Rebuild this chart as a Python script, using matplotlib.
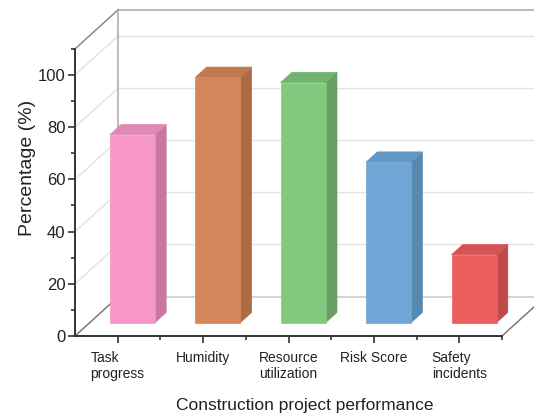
import matplotlib
matplotlib.use("Agg")
import matplotlib.pyplot as plt
from matplotlib.patches import Polygon

plt.rcParams["font.family"] = ["Liberation Sans", "DejaVu Sans"]

categories = ["Task\nprogress", "Humidity", "Resource\nutilization", "Risk Score", "Safety\nincidents"]
values = [72, 94, 92, 61.5, 26]
front_colors = ["#F797C9", "#D4875A", "#82C97E", "#6FA6D5", "#EC5E5E"]
top_colors = ["#E089B5", "#C07A4E", "#72B26F", "#6296C4", "#D65353"]
side_colors = ["#C877A1", "#AE6C44", "#689E64", "#5688B0", "#BE4A4A"]
major_ticks = [0, 20, 40, 60, 80, 100]
minor_ticks = [10, 30, 50, 70, 90, 110]
y_top = 110

# oblique depth offset (in data units) and bar placement along the depth
DX, DY = 0.507, 15.06
D0, D1 = 0.34, 0.60
HALF_W = 0.2635


def proj(x, y, d):
    return (x + d * DX, y + d * DY)


fig = plt.figure(figsize=(5.34, 4.15), dpi=100)
ax = fig.add_axes([75 / 534, 79 / 415, 459 / 534, 336 / 415])
ax.set_xlim(0.5, 0.5 + 459 / 85.4)
ax.set_ylim(0, 336 / 2.61)

x0, x1 = 0.5, 0.5 + len(categories)

# back wall and floor
grid_kw = dict(color="#E3E3E3", lw=1.0, zorder=1, clip_on=False)
for t in major_ticks[1:]:
    bx, by = proj(x0, t, 1)
    ax.plot([bx, x1 + 2], [by, by], **grid_kw)
    ax.plot([x0, bx], [t, by], **grid_kw)
edge_kw = dict(color="#A8A8A8", lw=1.1, zorder=2, clip_on=False)
bx, by = proj(x0, y_top, 1)
ax.plot([bx, x1 + 2], [by, by], **edge_kw)
ax.plot([x0, bx], [y_top, by], color="#8A8A8A", lw=1.1, zorder=2)
bx0, by0 = proj(x0, 0, 1)
ax.plot([bx0, bx0], [by0, by], **edge_kw)
ax.plot([bx0, x1 + 2], [by0, by0], color="#C8C8C8", lw=1.1, zorder=2)
ax.plot([x0, bx0], [0, by0], color="#7A7A7A", lw=1.1, zorder=2)
rx, ry = proj(x1, 0, 1)
ax.plot([x1, rx], [0, ry], color="#7A7A7A", lw=1.1, zorder=2, clip_on=True)

# 3D-looking bars
for i, v in enumerate(values):
    c = i + 1
    l, r = c - HALF_W, c + HALF_W
    front = [proj(l, 0, D0), proj(r, 0, D0), proj(r, v, D0), proj(l, v, D0)]
    side = [proj(r, 0, D0), proj(r, 0, D1), proj(r, v, D1), proj(r, v, D0)]
    top = [proj(l, v, D0), proj(r, v, D0), proj(r, v, D1), proj(l, v, D1)]
    ax.add_patch(Polygon(side, closed=True, fc=side_colors[i], ec=side_colors[i], lw=0.5, zorder=3))
    ax.add_patch(Polygon(top, closed=True, fc=top_colors[i], ec=top_colors[i], lw=0.5, zorder=3))
    ax.add_patch(Polygon(front, closed=True, fc=front_colors[i], ec=front_colors[i], lw=0.5, zorder=4))

# axes
for s in ["top", "right"]:
    ax.spines[s].set_visible(False)
ax.spines["left"].set_bounds(0, y_top)
ax.spines["bottom"].set_bounds(x0, x1)
for s in ["left", "bottom"]:
    ax.spines[s].set_color("#333333")
    ax.spines[s].set_linewidth(1.4)
    ax.spines[s].set_zorder(5)

ax.set_yticks(major_ticks)
ax.set_yticks(minor_ticks, minor=True)
ax.set_xticks(range(1, len(categories) + 1))
ax.set_xticklabels(categories)
ax.set_xticks([x0 + k for k in range(1, len(categories) + 1)], minor=True)
ax.tick_params(axis="both", which="major", direction="out", length=5, width=1.2, color="#333333")
ax.tick_params(axis="both", which="minor", direction="out", length=3, width=1.2, color="#333333")
ax.tick_params(axis="y", labelsize=12, pad=2, labelcolor="#222222")
ax.tick_params(axis="x", labelsize=10, pad=6, labelcolor="#222222")
for lbl in ax.get_xticklabels():
    lbl.set_multialignment("left")

ax.set_ylabel("Percentage (%)", fontsize=14, labelpad=1, color="#222222")
ax.set_xlabel("Construction project performance", fontsize=12.5, labelpad=12, color="#222222")

fig.savefig("out.png", dpi=100)
